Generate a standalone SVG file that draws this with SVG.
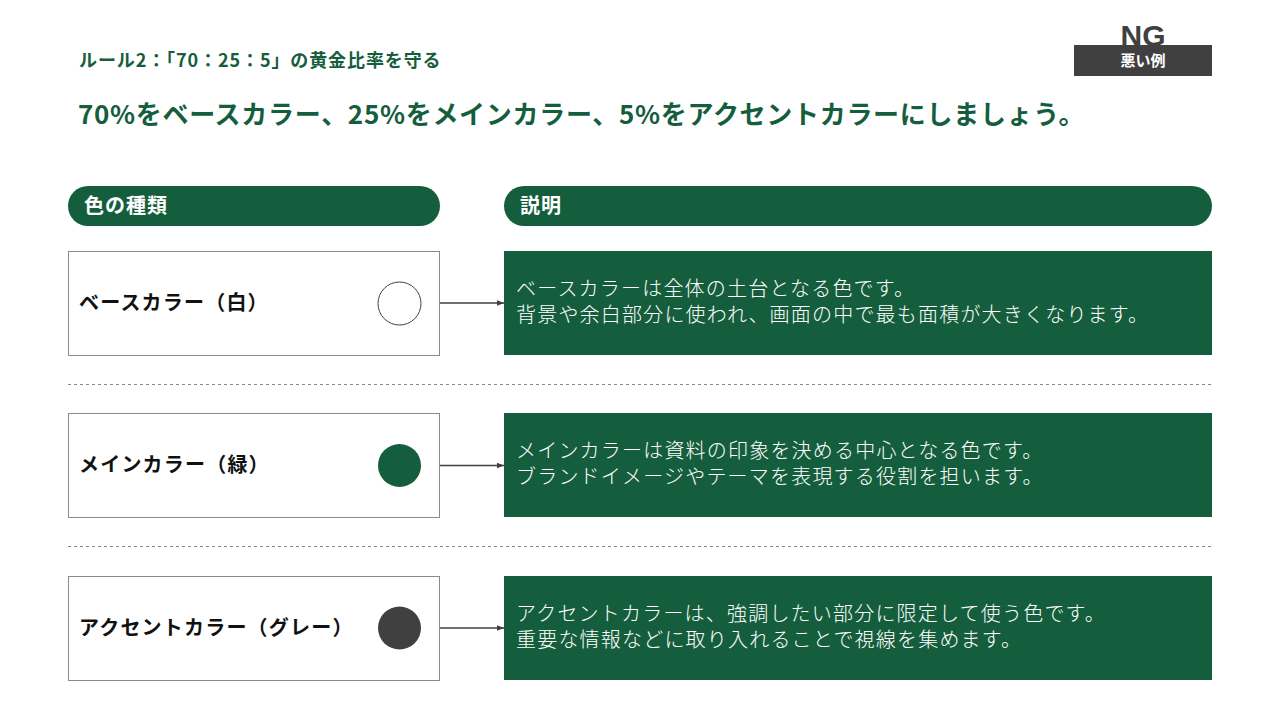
<svg xmlns="http://www.w3.org/2000/svg" width="1280" height="720" viewBox="0 0 1280 720">
<defs>
<marker id="arr" viewBox="0 0 10 10" refX="10" refY="5" markerWidth="7" markerHeight="7" orient="auto" markerUnits="userSpaceOnUse"><path d="M0,1 L10,5 L0,9 z" fill="#404040"/></marker>
<style>
text{font-family:"Noto Sans CJK JP","Noto Sans",sans-serif}
.green{fill:#155E3D}
.hd{fill:#fff;font-size:20px;font-weight:700;letter-spacing:1px}
.lbox{fill:#fff;stroke:#8a8a8a;stroke-width:1}
.lt{fill:#111;font-size:20px;font-weight:700;letter-spacing:1.2px}
.rbox{fill:#155E3D}
.rt{fill:#fff;font-size:20px;font-weight:300;letter-spacing:1.2px}
.dash{stroke:#888;stroke-width:1;stroke-dasharray:3,3}
.conn{stroke:#404040;stroke-width:1.5;fill:none}
</style>
</defs>
<rect width="1280" height="720" fill="#fff"/>
<g id="title">
<text x="79" y="67" class="green" style="font-size:18px;font-weight:700;letter-spacing:0.9px">ルール2：「70：25：5」の黄金比率を守る</text>
<text x="78" y="124" class="green" style="font-size:26px;font-weight:700;letter-spacing:0.7px">70%をベースカラー、25%をメインカラー、5%をアクセントカラーにしましょう。</text>
</g>
<g id="ng">
<text x="1143" y="46" text-anchor="middle" style="font-family:'Liberation Sans',sans-serif;font-size:30px;font-weight:700;fill:#404040">NG</text>
<rect x="1074" y="45" width="138" height="31" fill="#404040"/>
<text x="1143" y="66" text-anchor="middle" style="font-size:15px;font-weight:700;fill:#fff">悪い例</text>
</g>
<g id="header-type">
<rect x="68" y="186" width="372" height="40" rx="20" class="green"/>
<text x="84" y="213" class="hd">色の種類</text>
</g>
<g id="header-desc">
<rect x="504" y="186" width="708" height="40" rx="20" class="green"/>
<text x="520" y="213" class="hd">説明</text>
</g>
<g id="dividers">
<line x1="68" y1="384.5" x2="1212" y2="384.5" class="dash"/>
<line x1="68" y1="546.5" x2="1212" y2="546.5" class="dash"/>
</g>
<g id="base">
<rect x="68.5" y="251.5" width="371" height="104" class="lbox"/>
<text x="79" y="310" class="lt">ベースカラー（白）</text>
<circle cx="399.5" cy="303.5" r="21.5" fill="#fff" stroke="#404040" stroke-width="1"/>
</g>
<g id="base-desc">
<rect x="504" y="251" width="708" height="104" class="rbox"/>
<text x="516" y="296" class="rt">ベースカラーは全体の土台となる色です。</text>
<text x="516" y="322" class="rt">背景や余白部分に使われ、画面の中で最も面積が大きくなります。</text>
</g>
<g id="main">
<rect x="68.5" y="413.5" width="371" height="104" class="lbox"/>
<text x="79" y="472" class="lt">メインカラー（緑）</text>
<circle cx="399.5" cy="465.5" r="21.5" fill="#155E3D"/>
</g>
<g id="main-desc">
<rect x="504" y="413" width="708" height="104" class="rbox"/>
<text x="516" y="458" class="rt">メインカラーは資料の印象を決める中心となる色です。</text>
<text x="516" y="484" class="rt">ブランドイメージやテーマを表現する役割を担います。</text>
</g>
<g id="accent">
<rect x="68.5" y="576.5" width="371" height="104" class="lbox"/>
<text x="79" y="635" class="lt">アクセントカラー（グレー）</text>
<circle cx="399.5" cy="628" r="21.5" fill="#404040"/>
</g>
<g id="accent-desc">
<rect x="504" y="576" width="708" height="104" class="rbox"/>
<text x="516" y="621" class="rt">アクセントカラーは、強調したい部分に限定して使う色です。</text>
<text x="516" y="647" class="rt">重要な情報などに取り入れることで視線を集めます。</text>
</g>
<g id="connectors">
<line x1="440" y1="303" x2="504" y2="303" class="conn" marker-end="url(#arr)"/>
<line x1="440" y1="465.5" x2="504" y2="465.5" class="conn" marker-end="url(#arr)"/>
<line x1="440" y1="628" x2="504" y2="628" class="conn" marker-end="url(#arr)"/>
</g>
</svg>
